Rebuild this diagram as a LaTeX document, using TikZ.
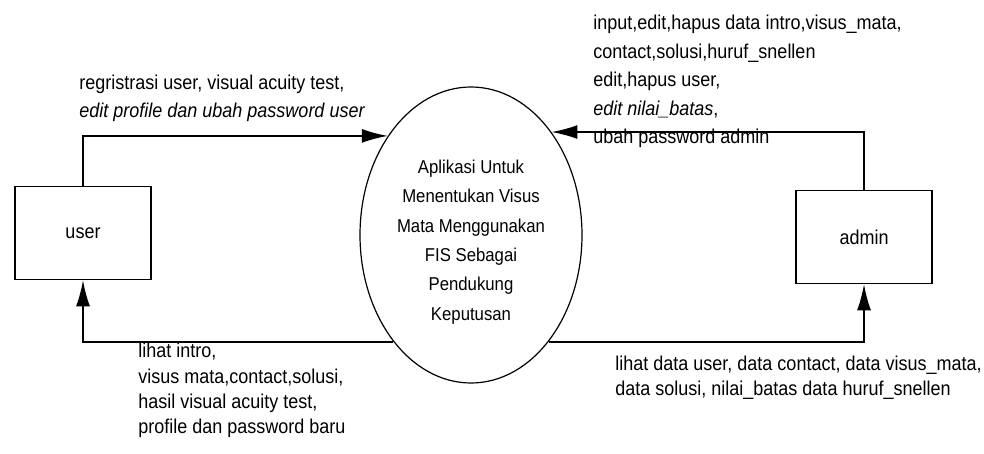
\documentclass[tikz,border=0pt]{standalone}
\usepackage{fontspec}
\setmainfont{Liberation Sans}[FakeStretch=0.9]
\usetikzlibrary{arrows.meta,shapes.geometric}

\begin{document}
\begin{tikzpicture}[x=0.5pt,y=-0.5pt,
    entity/.style={draw,line width=0.8pt,minimum width=68pt,minimum height=46.5pt,inner sep=0pt,font=\fontsize{10}{12}\selectfont},
    proses/.style={draw,ellipse,line width=0.6pt,minimum width=111pt,minimum height=148pt,inner sep=0pt},
    flow/.style={line width=0.8pt,-{Latex[length=13pt,width=7pt]}},
    ket/.style={align=left,anchor=north west,inner sep=0pt}]
    \useasboundingbox (0,0) rectangle (984,454);

    % entitas luar dan proses
    \node[entity] (user) at (83,233) {user};
    \node[entity] (admin) at (864,237) {admin};
    \node[proses,label={[align=center,yshift=-3.5pt,font=\fontsize{9.3}{14.7}\selectfont]center:Aplikasi Untuk\\ Menentukan Visus\\ Mata Menggunakan\\ FIS Sebagai\\ Pendukung\\ Keputusan}] (proc) at (471,235) {};

    % aliran data
    \draw[flow] (user.north) |- (proc.130);
    \draw[flow] (admin.north) |- (proc.52);
    \draw[flow] (proc.234) -| (user.south);
    \draw[flow] (proc.-54) -| (admin.south);

    \node[ket,font=\fontsize{10}{14}\selectfont] (ketdaftar) at (79,75) {regristrasi user, visual acuity test,\\ \textit{edit profile dan ubah password user}};
    \node[ket,font=\fontsize{10}{14.2}\selectfont] (ketinput) at (593,15) {input,edit,hapus data intro,visus\_mata,\\ contact,solusi,huruf\_snellen\\ edit,hapus user,\\ \textit{edit nilai\_batas},\\ ubah password admin};
    \node[ket,font=\fontsize{10}{12.6}\selectfont] (ketlihat) at (138,343) {lihat intro,\\ visus mata,contact,solusi,\\ hasil visual acuity test,\\ profile dan password baru};
    \node[ket,font=\fontsize{10}{12.5}\selectfont] (ketdata) at (615,356) {lihat data user, data contact, data visus\_mata,\\ data solusi, nilai\_batas data huruf\_snellen};

\end{tikzpicture}
\end{document}
